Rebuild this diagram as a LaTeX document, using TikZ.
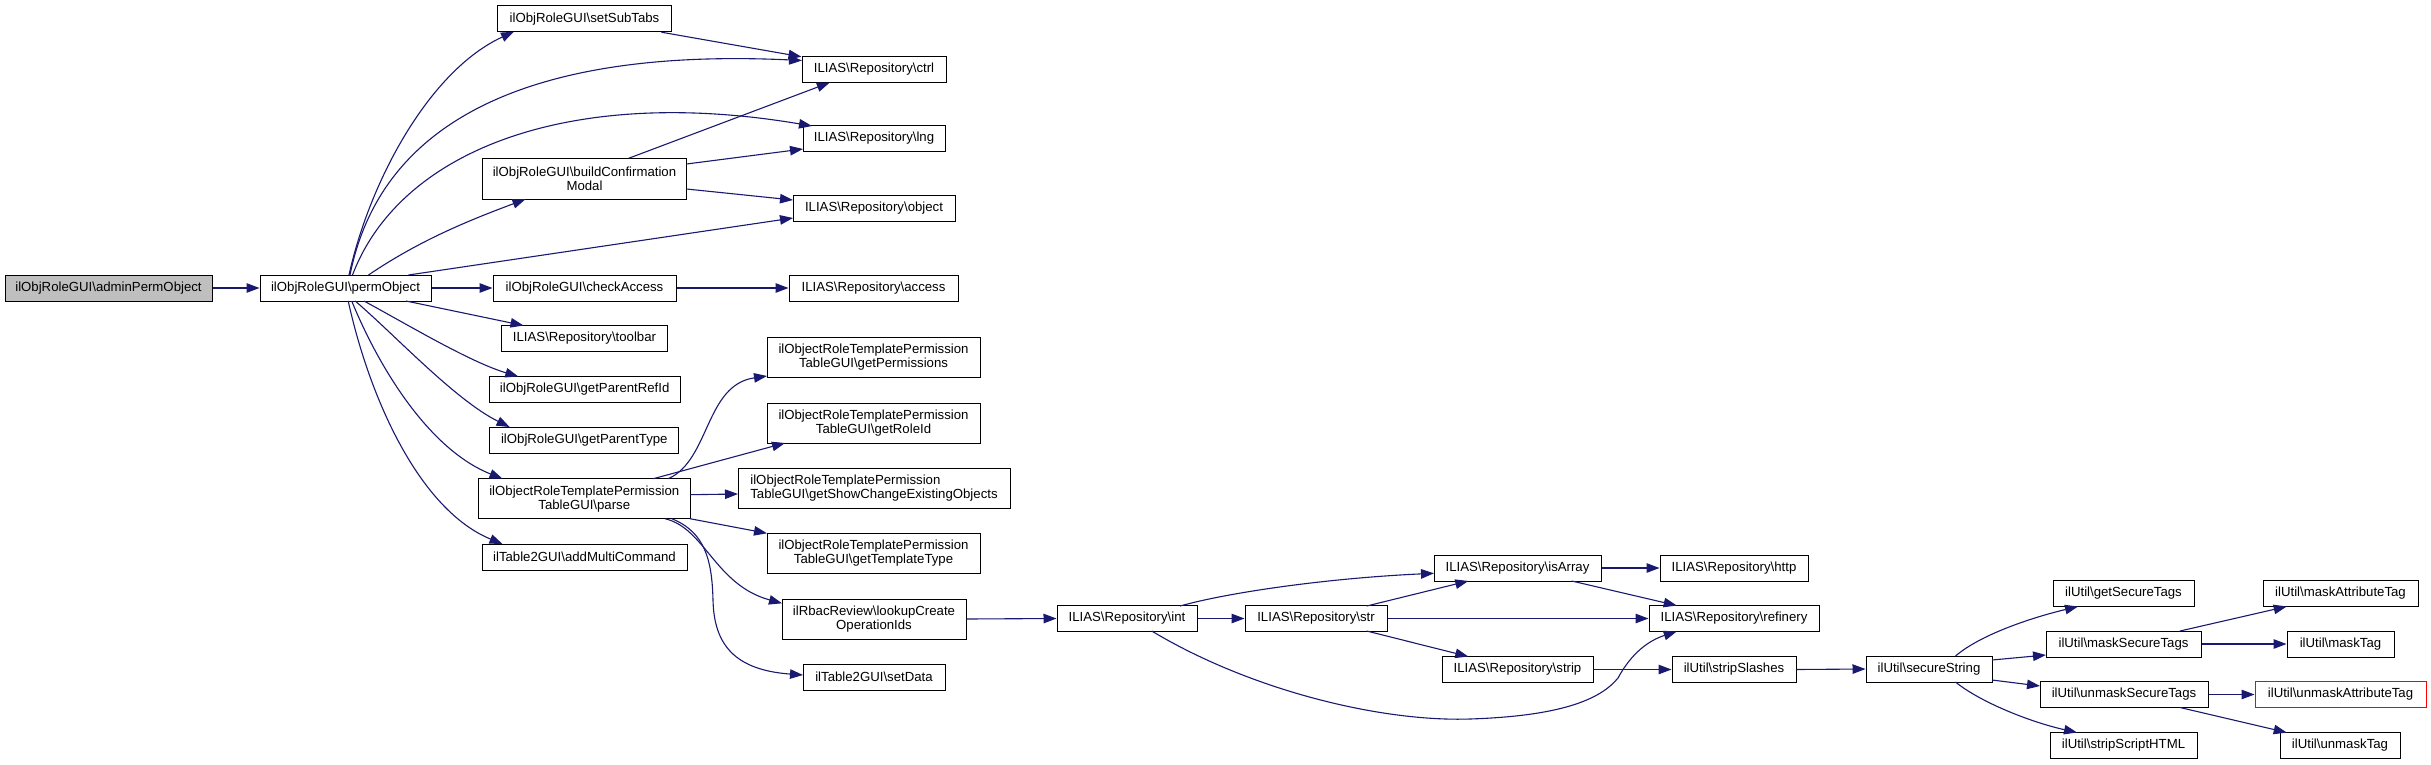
\documentclass[tikz,border=0pt]{standalone}
\usepackage{fontspec}
\setmainfont{Liberation Sans}
\usetikzlibrary{arrows.meta,calc}
\definecolor{edgecol}{HTML}{191970}
\definecolor{grayfill}{HTML}{BFBFBF}
\definecolor{redline}{HTML}{FF0000}
\newcommand{\bkslash}{\textbackslash}
\tikzset{
 fn/.style={draw=black, line width=1pt, fill=white, rectangle, inner sep=0pt, minimum height=26pt, align=center, font=\fontsize{13.2}{14}\selectfont},
 fntwo/.style={fn, minimum height=40pt},
 call/.style={draw=edgecol, line width=1.1pt, -{Triangle[length=13pt,width=9.5pt]}},
}
\begin{document}
\begin{tikzpicture}[x=1pt,y=-1pt]
\fill[white] (0,0) rectangle (2431,764);
\useasboundingbox (0,0) rectangle (2431,764);

% column 1-2
\node[fn, fill=grayfill, minimum width=207pt] (admin) at (108.5,288) {ilObjRoleGUI\bkslash adminPermObject};
\node[fn, minimum width=171pt] (perm) at (345.5,288) {ilObjRoleGUI\bkslash permObject};

% column 3
\node[fn, minimum width=174pt] (setSubTabs) at (584.5,18.7) {ilObjRoleGUI\bkslash setSubTabs};
\node[fntwo, minimum width=204pt, minimum height=41pt] (buildCM) at (584.5,178.7) {ilObjRoleGUI\bkslash buildConfirmation\\Modal};
\node[fn, minimum width=183pt] (checkAccess) at (584.5,288) {ilObjRoleGUI\bkslash checkAccess};
\node[fn, minimum width=166pt] (toolbar) at (584.5,338.5) {ILIAS\bkslash Repository\bkslash toolbar};
\node[fn, minimum width=191pt] (getParentRefId) at (584.7,389.5) {ilObjRoleGUI\bkslash getParentRefId};
\node[fn, minimum width=189pt] (getParentType) at (584.3,440) {ilObjRoleGUI\bkslash getParentType};
\node[fntwo, minimum width=212pt] (parse) at (584.3,498.7) {ilObjectRoleTemplatePermission\\TableGUI\bkslash parse};
\node[fn, minimum width=205pt] (addMulti) at (584.5,557) {ilTable2GUI\bkslash addMultiCommand};

% column 4
\node[fn, minimum width=144pt] (ctrl) at (874,69.5) {ILIAS\bkslash Repository\bkslash ctrl};
\node[fn, minimum width=142pt] (lng) at (874,138.5) {ILIAS\bkslash Repository\bkslash lng};
\node[fn, minimum width=162pt] (object) at (874,208) {ILIAS\bkslash Repository\bkslash object};
\node[fn, minimum width=169pt] (access) at (873.5,288) {ILIAS\bkslash Repository\bkslash access};
\node[fntwo, minimum width=213pt] (getPerm) at (873.5,357) {ilObjectRoleTemplatePermission\\TableGUI\bkslash getPermissions};
\node[fntwo, minimum width=213pt] (getRoleId) at (873.5,423) {ilObjectRoleTemplatePermission\\TableGUI\bkslash getRoleId};
\node[fntwo, minimum width=272pt, align=left] (getShow) at (874,488) {ilObjectRoleTemplatePermission\\TableGUI\bkslash getShowChangeExistingObjects};
\node[fntwo, minimum width=213pt] (getTempl) at (873.5,553) {ilObjectRoleTemplatePermission\\TableGUI\bkslash getTemplateType};
\node[fntwo, minimum width=184pt] (lookup) at (874,619) {ilRbacReview\bkslash lookupCreate\\OperationIds};
\node[fn, minimum width=142pt] (setData) at (874,677) {ilTable2GUI\bkslash setData};

% right part
\node[fn, minimum width=140pt] (int) at (1127,618.5) {ILIAS\bkslash Repository\bkslash int};
\node[fn, minimum width=142pt] (str) at (1316,618.5) {ILIAS\bkslash Repository\bkslash str};
\node[fn, minimum width=167pt] (isArray) at (1517.5,568) {ILIAS\bkslash Repository\bkslash isArray};
\node[fn, minimum width=151pt] (strip) at (1517.5,669.5) {ILIAS\bkslash Repository\bkslash strip};
\node[fn, minimum width=148pt] (http) at (1734,568) {ILIAS\bkslash Repository\bkslash http};
\node[fn, minimum width=170pt] (refinery) at (1734,618.5) {ILIAS\bkslash Repository\bkslash refinery};
\node[fn, minimum width=124pt] (stripSlashes) at (1734,669.5) {ilUtil\bkslash stripSlashes};
\node[fn, minimum width=126pt] (secureString) at (1929,669) {ilUtil\bkslash secureString};
\node[fn, minimum width=141pt] (getSecureTags) at (2123.5,593.5) {ilUtil\bkslash getSecureTags};
\node[fn, minimum width=155pt] (maskSecureTags) at (2123.5,644) {ilUtil\bkslash maskSecureTags};
\node[fn, minimum width=168pt] (unmaskSecureTags) at (2124,694.5) {ilUtil\bkslash unmaskSecureTags};
\node[fn, minimum width=147pt] (stripScriptHTML) at (2123.5,745.5) {ilUtil\bkslash stripScriptHTML};
\node[fn, minimum width=155pt] (maskAttributeTag) at (2340.5,593.5) {ilUtil\bkslash maskAttributeTag};
\node[fn, minimum width=107pt] (maskTag) at (2340.5,644) {ilUtil\bkslash maskTag};
\node[fn, draw=redline, minimum width=171pt] (unmaskAttributeTag) at (2340.5,694.5) {ilUtil\bkslash unmaskAttributeTag};
\node[fn, minimum width=120pt] (unmaskTag) at (2340,745.5) {ilUtil\bkslash unmaskTag};

% edges
\draw[call] (admin.east) -- (perm.west);
\draw[call] ($(perm)+(3.5,-13)$) .. controls (370,180) and (430,70) .. ($(setSubTabs)+(-70.5,13)$);
\draw[call] ($(perm)+(4.5,-13)$) .. controls (390,75) and (620,52) .. ($(ctrl)+(-72,-9)$);
\draw[call] ($(perm)+(7,-13)$) .. controls (400,150) and (570,85) .. ($(lng)+(-62,-12.5)$);
\draw[call] ($(perm)+(23,-13)$) .. controls (420,240) and (470,220) .. ($(buildCM)+(-59,20.5)$);
\draw[call] ($(perm)+(63,-13)$) -- ($(object)+(-81,10)$);
\draw[call] (perm.east) -- (checkAccess.west);
\draw[call] ($(perm)+(60.5,13)$) -- ($(toolbar)+(-61,-13)$);
\draw[call] ($(perm)+(18.5,13)$) .. controls (410,326) and (470,362) .. ($(getParentRefId)+(-66.4,-13)$);
\draw[call] ($(perm)+(9.7,13)$) .. controls (395,335) and (455,400) .. ($(getParentType)+(-74.7,-13)$);
\draw[call] ($(perm)+(6.2,13)$) .. controls (380,370) and (430,450) .. ($(parse)+(-81.8,-20)$);
\draw[call] ($(perm)+(2.7,13)$) .. controls (370,400) and (420,510) .. ($(addMulti)+(-82,-13)$);

\draw[call] (setSubTabs) -- (ctrl);
\draw[call] ($(buildCM)+(44.4,-20.5)$) -- ($(ctrl)+(-44.2,13)$);
\draw[call] ($(buildCM)+(102,-14.7)$) -- ($(lng)+(-71,10.5)$);
\draw[call] ($(buildCM)+(102,10.3)$) -- ($(object)+(-81,-8)$);
\draw[call] (checkAccess.east) -- (access.west);

\draw[call] ($(parse)+(84,-20)$) .. controls (710,460) and (705,385) .. ($(getPerm)+(-106.5,19)$);
\draw[call] ($(parse)+(69,-20)$) -- ($(getRoleId)+(-88.5,20)$);
\draw[call] ($(parse)+(106,-4)$) -- ($(getShow)+(-136,6)$);
\draw[call] ($(parse)+(105.7,20)$) -- ($(getTempl)+(-106.5,-19.7)$);
\draw[call] ($(parse)+(80.7,20)$) .. controls (705,528) and (715,585) .. ($(lookup)+(-92,-15.7)$);
\draw[call] ($(parse)+(87.4,20)$) .. controls (705,532) and (712,560) .. (713,600) .. controls (714,645) and (735,670) .. ($(setData)+(-71,-2)$);

\draw[call] (lookup.east) -- (int.west);
\draw[call] ($(int)+(53,-12.5)$) .. controls (1230,592) and (1330,578) .. ($(isArray)+(-83.5,5.3)$);
\draw[call] (int.east) -- (str.west);
\draw[call] ($(int)+(24.7,12.5)$) .. controls (1250,690) and (1380,722) .. (1470,719) .. controls (1560,716) and (1600,700) .. (1618,678) .. controls (1632,652) and (1650,640) .. ($(refinery)+(-57.3,13)$);
\draw[call] ($(str)+(50.7,-12.5)$) -- ($(isArray)+(-49.2,13)$);
\draw[call] (str.east) -- (refinery.west);
\draw[call] ($(str)+(50.7,12.5)$) -- ($(strip)+(-49.2,-13)$);
\draw[call] (isArray.east) -- (http.west);
\draw[call] ($(isArray)+(54.2,13)$) -- ($(refinery)+(-57.3,-13)$);
\draw[call] (strip.east) -- (stripSlashes.west);
\draw[call] (stripSlashes.east) -- (secureString.west);

\draw[call] ($(secureString)+(26.5,-13)$) .. controls (1980,635) and (2030,618) .. ($(getSecureTags)+(-45.5,13)$);
\draw[call] ($(secureString)+(63,-9)$) -- ($(maskSecureTags)+(-77.5,11)$);
\draw[call] ($(secureString)+(63,11)$) -- ($(unmaskSecureTags)+(-84,-8.5)$);
\draw[call] ($(secureString)+(26.5,13)$) .. controls (1980,702) and (2030,722) .. ($(stripScriptHTML)+(-46.5,-13)$);
\draw[call] ($(maskSecureTags)+(56.5,-13)$) -- ($(maskAttributeTag)+(-53.8,13)$);
\draw[call] (maskSecureTags.east) -- (maskTag.west);
\draw[call] (unmaskSecureTags.east) -- (unmaskAttributeTag.west);
\draw[call] ($(unmaskSecureTags)+(56,13)$) -- ($(unmaskTag)+(-53.3,-13)$);
\end{tikzpicture}
\end{document}
